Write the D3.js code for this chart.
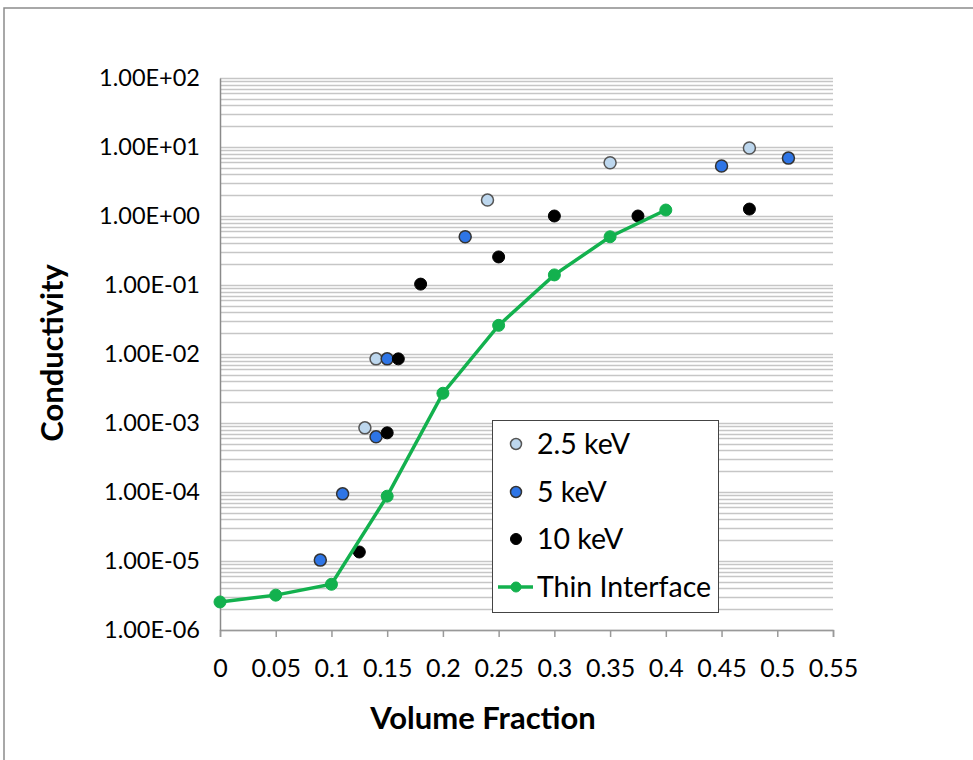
<!DOCTYPE html>
<html><head><meta charset="utf-8">
<script src="https://cdn.jsdelivr.net/npm/d3@7"></script>
<style>body{margin:0;background:#fff}svg{display:block;font-family:Lato,"Open Sans",sans-serif}</style>
</head><body><svg id="c" width="973" height="760"></svg>
<script>
const xTicks=[0,0.05,0.1,0.15,0.2,0.25,0.3,0.35,0.4,0.45,0.5,0.55];
const xTickLabels=["0","0.05","0.1","0.15","0.2","0.25","0.3","0.35","0.4","0.45","0.5","0.55"];
const yTickValues=[1e-6,1e-5,1e-4,1e-3,1e-2,1e-1,1e0,1e1,1e2];
const yTickLabels=["1.00E-06","1.00E-05","1.00E-04","1.00E-03","1.00E-02","1.00E-01","1.00E+00","1.00E+01","1.00E+02"];
const seriesNames=["2.5 keV","5 keV","10 keV","Thin Interface"];
const thinX=[0,0.05,0.1,0.15,0.2,0.25,0.3,0.35,0.4];
const thinY=[2.55e-6,3.2e-6,4.6e-6,8.7e-5,2.7e-3,0.026,0.14,0.5,1.22];
const kev25X=[0.13,0.14,0.24,0.35,0.475];
const kev25Y=[8.5e-4,8.5e-3,1.7,5.9,9.7];
const kev5X=[0.09,0.11,0.14,0.15,0.22,0.45,0.51];
const kev5Y=[1.03e-5,9.4e-5,6.3e-4,8.5e-3,0.5,5.3,6.9];
const kev10X=[0.125,0.15,0.16,0.18,0.25,0.3,0.375,0.475];
const kev10Y=[1.35e-5,7.2e-4,8.5e-3,0.103,0.255,1.0,1.0,1.26];

const svg=d3.select("#c");
const L=220,R=833,T=78,B=630;
const x=d3.scaleLinear().domain([0,0.55]).range([L,R]);
const y=d3.scaleLog().domain([1e-6,1e2]).range([B,T]);

// outer frame
svg.append("path").attr("d","M4,770 V8 H980").attr("fill","none").attr("stroke","#8c8c8c").attr("stroke-width",1.5);

// gridlines (major + minor)
const grid=[];
for(let e=-6;e<2;e++){for(let m=1;m<10;m++){grid.push(m*Math.pow(10,e));}}
grid.push(100);
svg.append("g").selectAll("line").data(grid).join("line")
  .attr("x1",L).attr("x2",R).attr("y1",d=>Math.round(y(d))+0.5).attr("y2",d=>Math.round(y(d))+0.5)
  .attr("stroke","#c6c6c6").attr("stroke-width",1.5);

// x axis
const xa=svg.append("g").attr("transform",`translate(0,${B})`)
  .call(d3.axisBottom(x).tickValues(xTicks).tickSize(7).tickPadding(22).tickFormat((d,i)=>xTickLabels[i]));
xa.select(".domain").attr("stroke","#999").attr("stroke-width",1.5);
xa.selectAll(".tick line").attr("stroke","#999").attr("stroke-width",1.5);
xa.selectAll(".tick text").attr("font-size",25).attr("fill","#000").attr("font-family","Lato");

// y axis
const ya=svg.append("g").attr("transform",`translate(${L},0)`)
  .call(d3.axisLeft(y).tickValues(yTickValues).tickSize(0).tickPadding(20).tickFormat((d,i)=>yTickLabels[i]));
ya.select(".domain").attr("stroke","#8a8a8a").attr("stroke-width",1.5);
ya.selectAll(".tick text").attr("font-size",23.5).attr("fill","#000").attr("font-family","Lato");

// titles
svg.append("text").attr("x",483).attr("y",729).attr("text-anchor","middle")
  .attr("font-size",31).attr("font-weight","bold").text("Volume Fraction");
svg.append("text").attr("transform","translate(63,353) rotate(-90)").attr("text-anchor","middle")
  .attr("font-size",31).attr("font-weight","bold").text("Conductivity");

const styles=[
  {fill:"#bdd7ee",stroke:"#555",sw:1.5},
  {fill:"#2e75e6",stroke:"#333",sw:1.5},
  {fill:"#000",stroke:"#000",sw:1},
  {fill:"#13b14e",stroke:"#13b14e",sw:1}
];
function pts(xs,ys,st){
  svg.append("g").selectAll("circle").data(xs.map((v,i)=>[v,ys[i]])).join("circle")
    .attr("cx",d=>x(d[0])).attr("cy",d=>y(d[1])).attr("r",6)
    .attr("fill",st.fill).attr("stroke",st.stroke).attr("stroke-width",st.sw);
}
pts(kev25X,kev25Y,styles[0]);
pts(kev5X,kev5Y,styles[1]);
pts(kev10X,kev10Y,styles[2]);
const thin=thinX.map((v,i)=>[v,thinY[i]]);
svg.append("path").datum(thin).attr("d",d3.line().x(d=>x(d[0])).y(d=>y(d[1])))
  .attr("fill","none").attr("stroke","#13b14e").attr("stroke-width",3.5);
pts(thinX,thinY,styles[3]);

// legend
const lg=svg.append("g");
lg.append("rect").attr("x",492.5).attr("y",420.5).attr("width",226).attr("height",192)
  .attr("fill","#fff").attr("stroke","#444").attr("stroke-width",1);
const rows=[444,492,539,587];
seriesNames.forEach((n,i)=>{
  const cy=rows[i];
  if(i===3){
    lg.append("line").attr("x1",498).attr("x2",533).attr("y1",cy).attr("y2",cy).attr("stroke","#13b14e").attr("stroke-width",3.5);
  }
  lg.append("circle").attr("cx",516).attr("cy",cy).attr("r",i===3?5:5.5)
    .attr("fill",styles[i].fill).attr("stroke",styles[i].stroke).attr("stroke-width",styles[i].sw);
  lg.append("text").attr("x",537).attr("y",cy).attr("dy","0.36em").attr("font-size",28.5).text(n);
});
</script></body></html>
